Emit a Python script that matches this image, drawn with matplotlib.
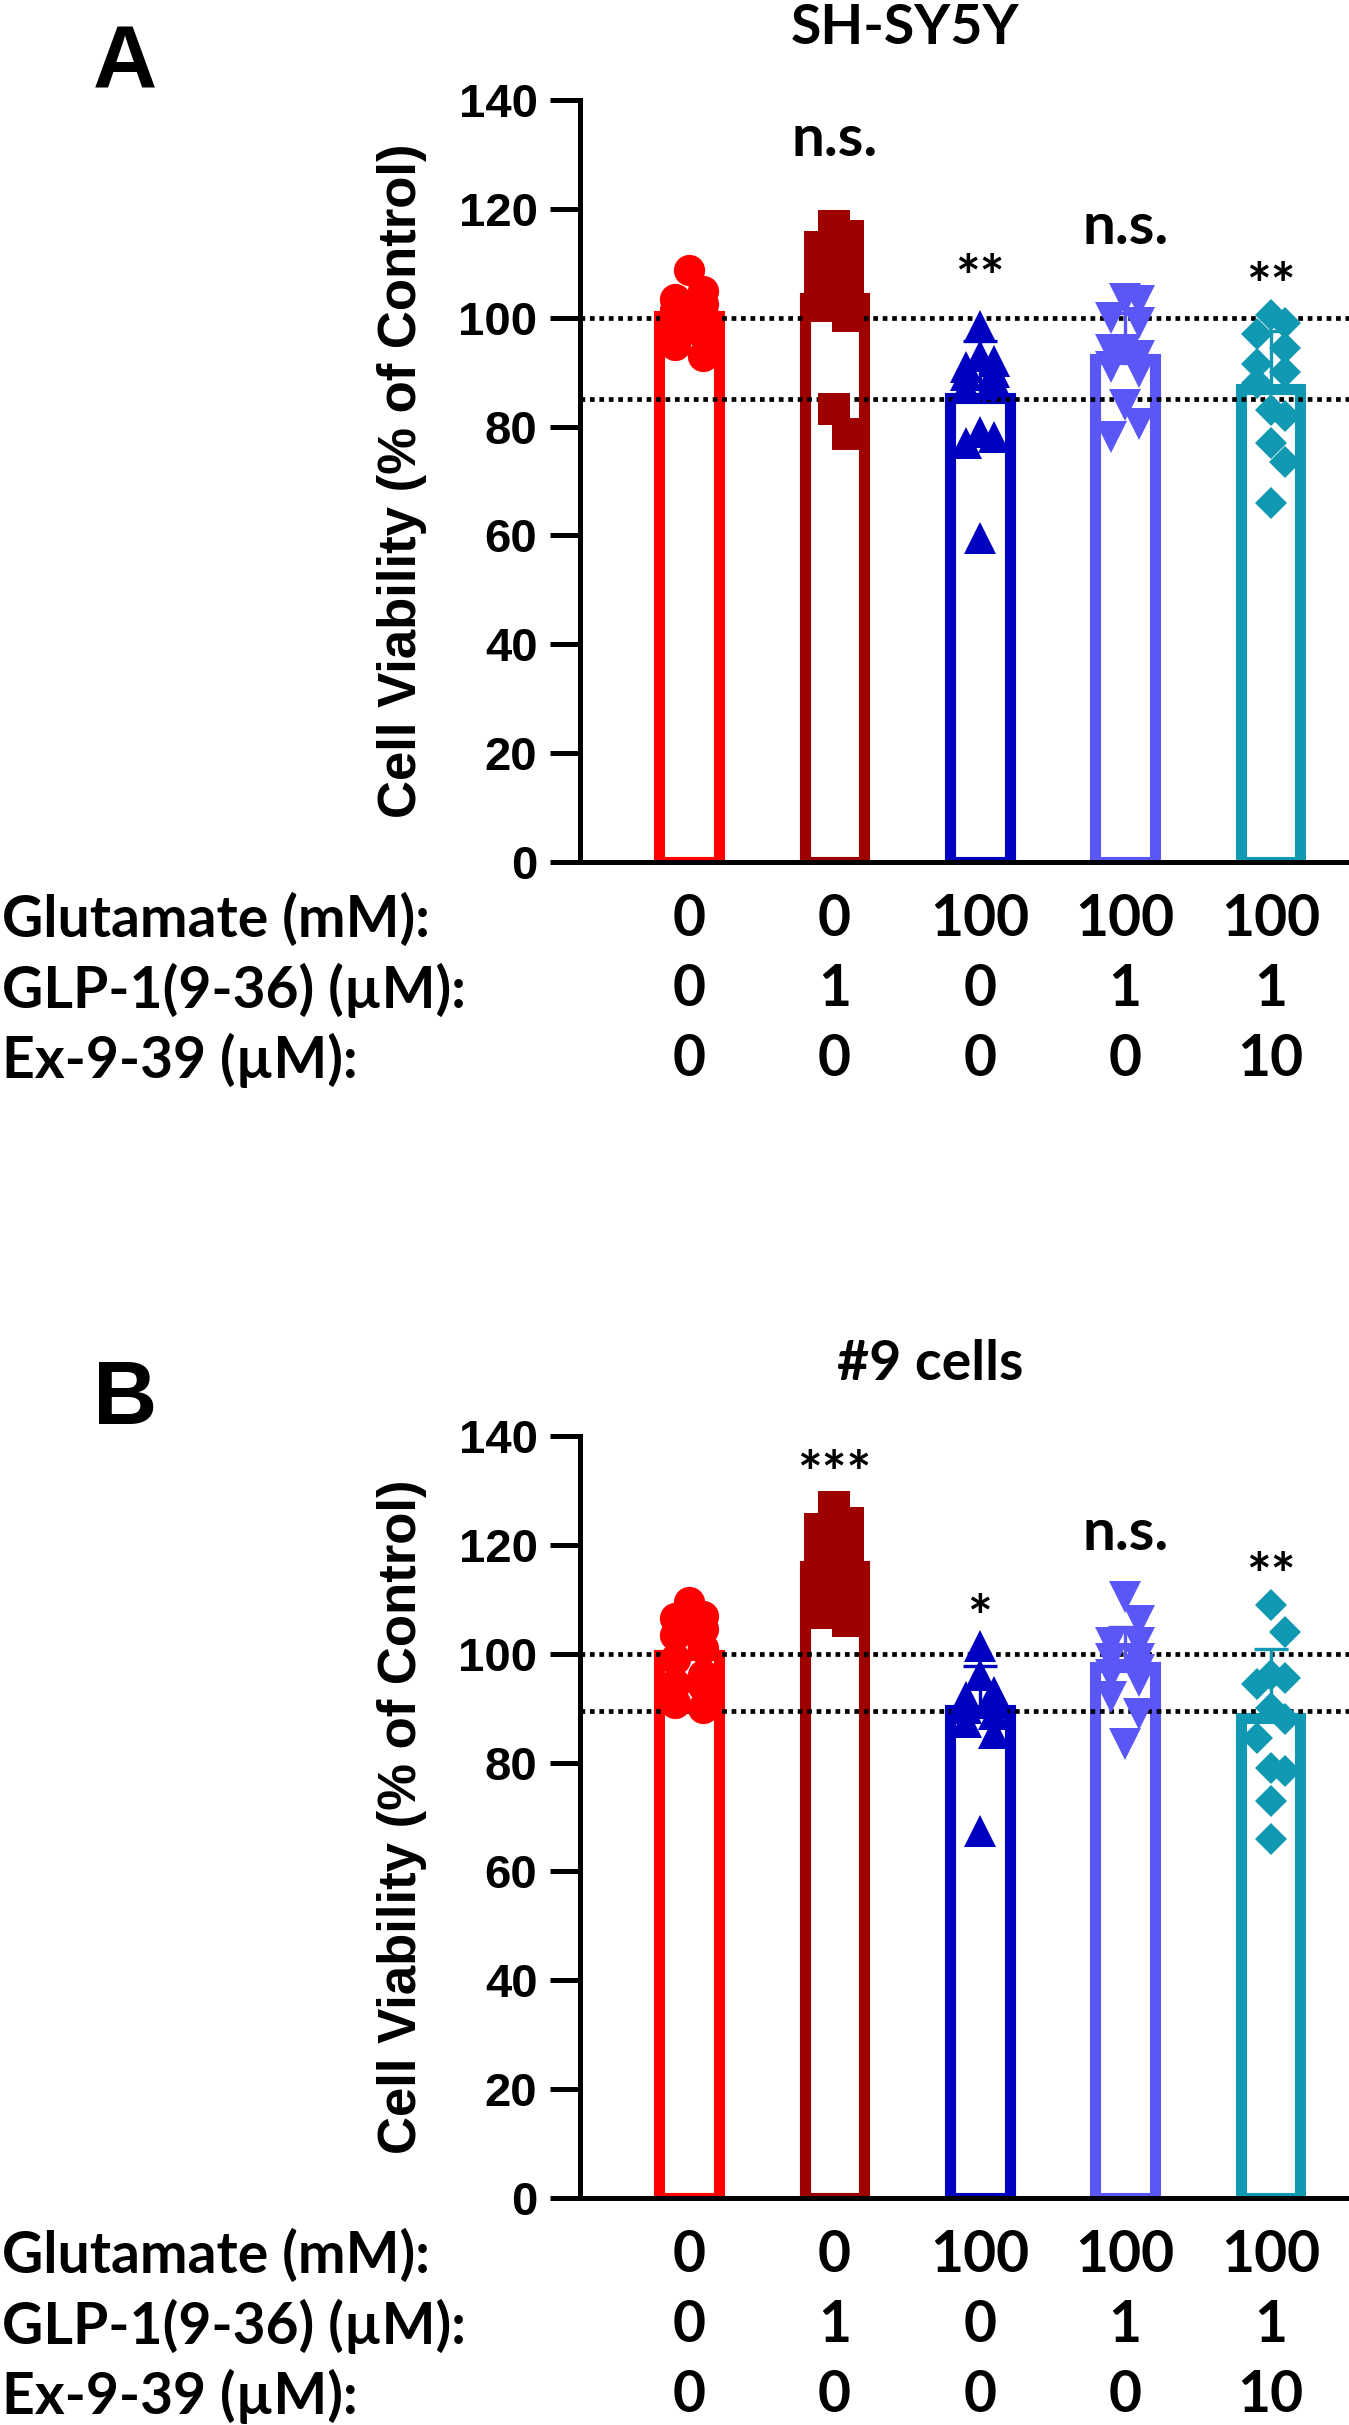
import matplotlib
matplotlib.use('Agg')
import matplotlib.pyplot as plt
import matplotlib.transforms as mtransforms
import numpy as np

# ---- data ----
row_names = ['Glutamate (mM):', 'GLP-1(9-36) (\u00b5M):', 'Ex-9-39 (\u00b5M):']
glutamate = ['0', '0', '100', '100', '100']
glp1 = ['0', '1', '0', '1', '1']
ex939 = ['0', '0', '0', '0', '10']

colors = ['#FF0000', '#9E0000', '#0000C0', '#5A57F6', '#1199B4']
markers = ['o', 's', '^', 'v', 'D']

# SH-SY5Y
a_ctrl = [108.8, 104.9, 103.5, 102.5, 101.5, 100.5, 100, 99, 98, 97, 95, 93]
a_glp = [116.8, 115, 113, 110.1, 108.6, 107, 105, 104, 102.1, 100.3, 83.2, 78.6]
a_glu = [98.5, 93, 92, 91, 90, 89.5, 88.5, 87, 79, 78, 77, 59.5]
a_glu_glp = [103.5, 103, 100, 99, 94, 93, 94, 91, 90, 84, 80.5, 78]
a_glu_glp_ex = [100.5, 99, 97, 94.5, 91.5, 90, 88, 83, 82, 77, 73.5, 66]
a_sig = ['', 'n.s.', '**', 'n.s.', '**']
a_sig_y = [0, 132.4, 109.8, 116.2, 108.3]
a_ref = [100, 85]

# #9 cells
b_ctrl = [109.5, 107, 106.5, 104.5, 103.5, 101, 99, 96, 94.5, 94, 91, 90]
b_glp = [127, 124, 123, 121, 119, 117, 115, 113, 111, 109, 107.5, 106]
b_glu = [101.5, 96, 93, 92, 91.5, 91, 91, 90, 89, 87.5, 85.5, 67.5]
b_glu_glp = [110.5, 106, 102, 102, 99, 99, 96, 97, 95, 92, 89, 83.5]
b_glu_glp_ex = [109, 104, 96, 95.5, 94.5, 90, 88, 84.5, 79, 78.5, 73, 66]
b_sig = ['', '***', '*', 'n.s.', '**']
b_sig_y = [0, 135.5, 109.1, 121.8, 116.7]
b_ref = [100, 89.5]

W, H = 1349, 2425
ARIAL = 'Liberation Sans'
CALIBRI = 'Lato'


def swarm(vals, xpx, ypx, diam, max_off):
    # simple deterministic beeswarm: place points high to low, nearest free slot
    vals = np.asarray(vals, float)
    step = 0.5 * diam / xpx
    cands = [0.0]
    for k in range(1, 12):
        cands += [k * step, -k * step]
    cands = [c for c in cands if abs(c) <= max_off + 1e-9]
    offs = np.zeros(len(vals))
    placed = []
    for i in np.argsort(-vals, kind='stable'):
        best, best_ov = 0.0, np.inf
        for c in cands:
            ov = 0.0
            for px_, py_ in placed:
                d = np.hypot((c - px_) * xpx, (vals[i] - py_) * ypx)
                if d < diam:
                    ov += diam - d
            if ov == 0:
                best = c
                break
            if ov < best_ov:
                best, best_ov = c, ov
        offs[i] = best
        placed.append((best, vals[i]))
    return offs


def panel(fig, top_px, groups, sig, sig_y, ref, title, title_x, letter):
    bot_px = top_px + 762
    ax = fig.add_axes([580 / W, 1 - bot_px / H, (W - 580) / W, 762 / H])
    ax.set_xlim(-0.75, 4.54)
    ax.set_ylim(0, 140)
    x = np.arange(len(groups))
    xpx = (W - 580) / 5.29
    ypx = 762 / 140.0

    means = [np.mean(g) for g in groups]
    sds = [np.std(g, ddof=1) for g in groups]
    ax.bar(x, means, width=0.41, facecolor='white', edgecolor=colors,
           linewidth=8, zorder=2)
    for r in ref:
        ax.axhline(r, color='black', linestyle=(0, (1, 1)), lw=3.4, zorder=3)
    for i, g in enumerate(groups):
        ms = 16.5 if markers[i] == 'D' else 22.5
        offs = swarm(g, xpx, ypx, 28, 0.16)
        ax.plot(x[i] + offs, g, linestyle='none', marker=markers[i], ms=ms,
                color=colors[i], mec=colors[i], mew=0, zorder=4)
        # SD error bar, drawn upward from the mean
        ax.errorbar(x[i], means[i], yerr=[[0], [sds[i]]], color=colors[i],
                    lw=2.4, capsize=12, capthick=2.4, zorder=3.5)
        if sig[i]:
            k = 0.56 if '*' in sig[i] else 0.25
            ax.annotate(sig[i], (x[i], sig_y[i]), textcoords='offset points',
                        xytext=(0, -k * 42), ha='center', va='baseline',
                        fontsize=42, fontweight='bold', family=CALIBRI)

    for s in ['top', 'right']:
        ax.spines[s].set_visible(False)
    for s in ['left', 'bottom']:
        ax.spines[s].set_linewidth(3.6)
        ax.spines[s].set_zorder(6)
    ax.set_yticks(np.arange(0, 141, 20))
    ax.set_xticks([])
    ax.tick_params(axis='y', length=21.6, width=3.6, pad=9, labelsize=34)
    for t in ax.get_yticklabels():
        t.set_fontfamily(ARIAL)
        t.set_fontweight('bold')

    fig.text(402 / W, 1 - (top_px + 381) / H, 'Cell Viability (% of Control)',
             rotation=90, ha='center', va='center', fontsize=38,
             fontweight='bold', family=ARIAL)
    fig.text(title_x / W, 1 - (top_px - 72) / H, title, ha='center',
             va='center', fontsize=40, fontweight='bold', family=CALIBRI)
    fig.text(125 / W, 1 - (top_px - 35) / H, letter, ha='center', va='center',
             fontsize=64, fontweight='bold', family=ARIAL)

    trans = mtransforms.blended_transform_factory(ax.transData, fig.transFigure)
    rows = [glutamate, glp1, ex939]
    for j, (name, vals) in enumerate(zip(row_names, rows)):
        yy = 1 - (bot_px + 58 + 70 * j) / H
        fig.text(2 / W, yy, name, ha='left', va='center', fontsize=41,
                 fontweight='bold', family=CALIBRI)
        for i, v in enumerate(vals):
            ax.text(x[i], yy, v, transform=trans, ha='center', va='center',
                    fontsize=41, fontweight='bold', family=CALIBRI)
    return ax


fig = plt.figure(figsize=(W / 100, H / 100), dpi=100)
panel(fig, 100, [a_ctrl, a_glp, a_glu, a_glu_glp, a_glu_glp_ex],
      a_sig, a_sig_y, a_ref, 'SH-SY5Y', 905, 'A')
panel(fig, 1436, [b_ctrl, b_glp, b_glu, b_glu_glp, b_glu_glp_ex],
      b_sig, b_sig_y, b_ref, '#9 cells', 930, 'B')
fig.savefig('out.png', dpi=100)
